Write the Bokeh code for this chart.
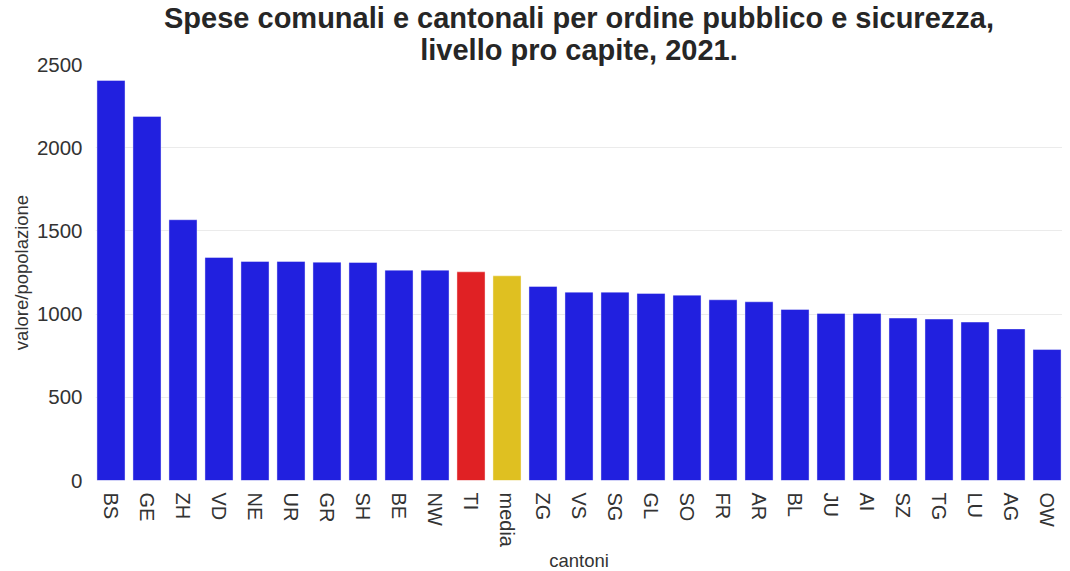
from bokeh.plotting import figure
from bokeh.models import ColumnDataSource, FactorRange, Range1d, FixedTicker, Title
from bokeh.embed import file_html
from bokeh.resources import INLINE

cantoni = ["BS", "GE", "ZH", "VD", "NE", "UR", "GR", "SH", "BE", "NW", "TI", "media",
           "ZG", "VS", "SG", "GL", "SO", "FR", "AR", "BL", "JU", "AI", "SZ", "TG", "LU", "AG", "OW"]
valori = [2404, 2188, 1567, 1340, 1316, 1316, 1312, 1310, 1264, 1264, 1254, 1230,
          1166, 1132, 1132, 1124, 1114, 1086, 1074, 1028, 1004, 1004, 976, 970, 952, 911, 787]
y_ticks = [0, 500, 1000, 1500, 2000, 2500]
titolo = ["Spese comunali e cantonali per ordine pubblico e sicurezza,",
          "livello pro capite, 2021."]

BLUE = "#2120DF"
RED = "#E02124"
GOLD = "#DFC021"
colori = [RED if c == "TI" else GOLD if c == "media" else BLUE for c in cantoni]

source = ColumnDataSource(dict(cantoni=cantoni, valori=valori, colori=colori))

FONT = "Liberation Sans"

p = figure(
    x_range=FactorRange(factors=cantoni, range_padding=-0.07, range_padding_units="absolute"),
    y_range=Range1d(0, 2500),
    frame_width=967, frame_height=416,
    min_border_left=80, min_border_right=0, min_border_top=57, min_border_bottom=20,
    output_backend="svg", toolbar_location=None,
    background_fill_color="white", border_fill_color="white",
)
p.margin = (0, 0, 0, 7)
p.outline_line_color = None
p.title = None

for i, line in enumerate(reversed(titolo)):
    t = Title(text=line, align="center", text_font=FONT, text_font_size="29px",
              text_font_style="bold", text_color="#262626", text_line_height=0.9,
              standoff=-2, offset=0)
    p.add_layout(t, "above")

p.vbar(x="cantoni", top="valori", width=0.78, source=source,
       fill_color="colori", line_color="white", line_alpha=0.4, line_width=1)

p.xgrid.grid_line_color = None
p.ygrid.grid_line_color = "#EBEBEB"
p.ygrid.grid_line_width = 1

p.yaxis.ticker = FixedTicker(ticks=y_ticks)
for ax in (p.xaxis[0], p.yaxis[0]):
    ax.axis_line_color = None
    ax.major_tick_line_color = None
    ax.minor_tick_line_color = None
    ax.major_tick_out = 0
    ax.major_tick_in = 0
    ax.minor_tick_out = 0
    ax.minor_tick_in = 0
    ax.major_label_text_font = FONT
    ax.major_label_text_font_size = "20.5px"
    ax.major_label_text_color = "#333333"
    ax.axis_label_text_font = FONT
    ax.axis_label_text_font_size = "18.5px"
    ax.axis_label_text_font_style = "normal"
    ax.axis_label_text_color = "#333333"
    ax.axis_label_text_line_height = 0.9

p.xaxis.major_label_text_font_size = "20px"
p.xaxis.axis_label = "cantoni"
p.yaxis.axis_label = "valore/popolazione"
p.xaxis.major_label_orientation = "vertical"
p.xaxis.major_label_standoff = 12
p.yaxis.major_label_standoff = 13
p.xaxis.axis_label_standoff = 0
p.yaxis.axis_label_standoff = 2

open("out.html", "w").write(file_html(p, INLINE))
